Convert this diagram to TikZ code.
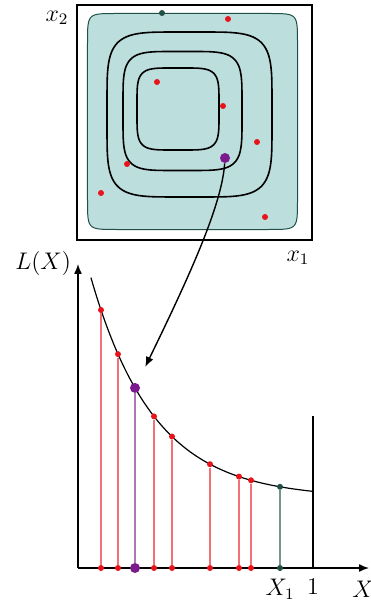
\documentclass[tikz,border=0pt]{standalone}
\usetikzlibrary{arrows.meta,calc}
\definecolor{verdeagua}{HTML}{BCDEDD}
\definecolor{verdeosc}{HTML}{1F4F45}
\definecolor{rojo}{HTML}{E8141B}
\definecolor{morado}{HTML}{7B1A8C}

\begin{document}
\begin{tikzpicture}[x=0.5pt, y=-0.5pt, font=\large,
    punto/.style={circle, fill=rojo, inner sep=0pt, minimum size=3pt},
    grande/.style={circle, fill=morado, inner sep=0pt, minimum size=5pt},
    flecha/.style={-{Latex[length=5pt,width=4pt]}, line width=0.7pt}]
  \useasboundingbox (0,0) rectangle (370,603);
  % espacio de parametros
  \draw[line width=0.6pt] (77,5) rectangle (312,240);
  \filldraw[fill=verdeagua, draw=verdeosc, line width=0.5pt]
    plot[domain=1.5:358.5, samples=120] ({192.5+105*sign(cos(\x))*abs(cos(\x))^(0.1)}, {121.5+108*sign(sin(\x))*abs(sin(\x))^(0.1)}) -- cycle;
  \foreach \cx/\cy/\r in {189.5/114.5/82.5, 182.5/111/59.5, 178/109/41} {
    \draw[line width=0.8pt]
      plot[domain=1.5:358.5, samples=120] ({\cx+\r*sign(cos(\x))*abs(cos(\x))^(0.4)}, {\cy+\r*sign(sin(\x))*abs(sin(\x))^(0.4)}) -- cycle;
  }
  \foreach \p/\q [count=\i] in {228/19, 157/82, 223/106, 257/142, 127/164, 101/193, 265/217}
    \node[punto] (r\i) at (\p,\q) {};
  \node[punto, fill=verdeosc] (v) at (162,13) {};
  \node[grande] (tp) at (225,158) {};
  \node (x2) at (57,18) {$x_2$};
  \node (x1) at (298,258) {$x_1$};
  % L(X)
  \coordinate (o) at (78,568);
  \coordinate (ey) at (78,264);
  \coordinate (ex) at (369,568);
  \coordinate (uno) at (313,568);
  \draw[flecha] (o) -- (ey);
  \draw[flecha] (o) -- (ex);
  \draw[line width=0.6pt] (uno) -- ++(0,-152);
  \draw[line width=0.6pt] plot[domain=0.055:1, samples=60, smooth] ({78+235*\x}, {498-270*exp(-3.7*\x)});
  \foreach \p/\c/\s in {101/rojo/3pt, 118/rojo/3pt, 135/morado/5pt, 154/rojo/3pt, 172/rojo/3pt, 210/rojo/3pt, 239/rojo/3pt, 251/rojo/3pt, 280/verdeosc/3pt} {
    \node[punto, fill=\c, minimum size=\s] (c\p) at ({\p},{498-270*exp(-3.7*(\p-78)/235)}) {};
    \node[punto, fill=\c, minimum size=\s] (b\p) at (\p,568) {};
    \draw[\c!60, line width=0.8pt] (b\p) -- (c\p);
  }
  \draw[flecha, shorten >=9pt] (tp) .. controls (222,205) and (189,277) .. (c135);
  \node[left] (ly) at (ey) {$L(X)$};
  \node[below=2pt] (lx1) at (b280) {$X_1$};
  \node[below=2pt] (l1) at (uno) {$1$};
  \node[below=3pt] (lx) at (363,568) {$X$};
\end{tikzpicture}
\end{document}
